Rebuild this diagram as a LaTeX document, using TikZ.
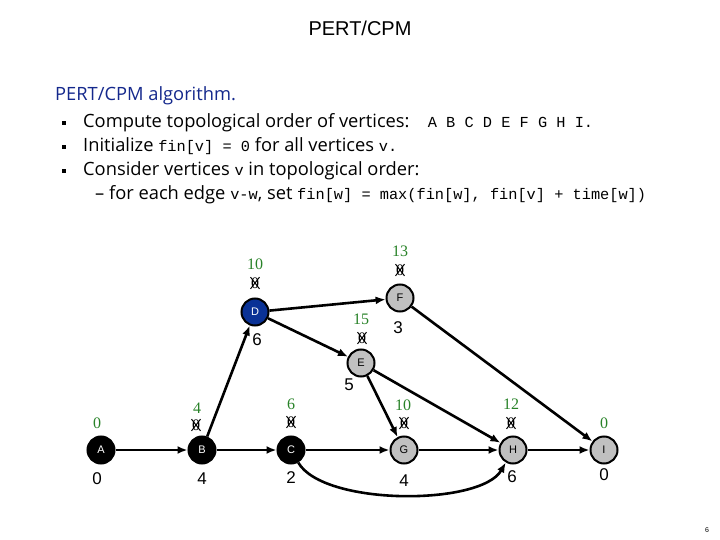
\documentclass[tikz,border=0pt]{standalone}
\usepackage{fontspec}
\setmainfont{Liberation Sans}
\newfontfamily\comicfont{Open Sans}
\newfontfamily\typefont{Liberation Mono}
\newfontfamily\numfont{Liberation Serif}
\usetikzlibrary{shapes.misc,arrows.meta}
\definecolor{slideblue}{RGB}{20,40,140}
\definecolor{fingreen}{RGB}{40,130,40}
\definecolor{dnode}{RGB}{10,50,150}
\definecolor{gnode}{RGB}{192,192,192}
\newcommand\code[1]{{\typefont\fontsize{15.3}{15}\selectfont #1}}
\tikzset{
  task/.style={circle,draw=black,line width=2pt,minimum size=27pt,inner sep=0pt,font=\fontsize{11}{11}\selectfont},
  done/.style={task,fill=black,text=white},
  cur/.style={task,fill=dnode,text=white},
  todo/.style={task,fill=gnode},
  fin/.style={text=fingreen,inner sep=0pt,font=\numfont\fontsize{16}{16}\selectfont},
  old/.style={cross out,draw,line width=1pt,inner sep=0pt,font=\numfont\fontsize{16}{16}\selectfont},
  dur/.style={inner sep=0pt,font=\fontsize{17}{17}\selectfont},
  textline/.style={anchor=base west,inner sep=0pt,font=\comicfont\fontsize{18.3}{18}\selectfont},
  bullet/.style={fill=black,inner sep=0pt,minimum size=4pt},
  edge/.style={-{Latex[length=10pt,width=8pt]},line width=2.6pt}
}
\begin{document}
\begin{tikzpicture}[x=1pt,y=-1pt]
  \useasboundingbox (0,0) rectangle (720,540);
  \node[font=\fontsize{20}{20}\selectfont] (title) at (360,28) {PERT/CPM};
  \node[textline,text=slideblue] (head) at (55,101) {PERT/CPM algorithm.};
  \node[bullet] (b1) at (64,123) {};
  \node[bullet] (b2) at (64,147) {};
  \node[bullet] (b3) at (64,171) {};
  \node[textline] (l1) at (83,128) {Compute topological order of vertices:\quad\code{A B C D E F G H I.}};
  \node[textline] (l2) at (83,152) {Initialize \code{fin[v] = 0} for all vertices \code{v.}};
  \node[textline] (l3) at (83,176) {Consider vertices \code{v} in topological order:};
  \node[textline] (l4) at (95,200) {–\ for each edge \code{v-w}, set \code{fin[w] = max(fin[w], fin[v] + time[w])}};
  \draw
    (101,450) node[done] (A){A}
    (202,450) node[done] (B){B}
    (291,450) node[done] (C){C}
    (255,312) node[cur] (D){D}
    (361,363) node[todo] (E){E}
    (400,298) node[todo] (F){F}
    (404,450) node[todo] (G){G}
    (513,450) node[todo] (H){H}
    (604,450) node[todo] (I){I};
  \draw
    (97,423) node[fin] (fA){0}
    (197,408) node[fin] (fB){4}
    (291,404) node[fin] (fC){6}
    (255,264) node[fin] (fD){10}
    (361,319) node[fin] (fE){15}
    (400,251) node[fin] (fF){13}
    (403,405) node[fin] (fG){10}
    (511,404) node[fin] (fH){12}
    (604,423) node[fin] (fI){0};
  \draw
    (196,425) node[old] (xB){0}
    (291,422) node[old] (xC){0}
    (255,283) node[old] (xD){0}
    (362,338) node[old] (xE){0}
    (400,270) node[old] (xF){0}
    (404,423) node[old] (xG){0}
    (511,423) node[old] (xH){0};
  \draw
    (97,479) node[dur] (tA){0}
    (202,479) node[dur] (tB){4}
    (291,478) node[dur] (tC){2}
    (257,340) node[dur] (tD){6}
    (349,385) node[dur] (tE){5}
    (398,328) node[dur] (tF){3}
    (404,481) node[dur] (tG){4}
    (512,477) node[dur] (tH){6}
    (604,475) node[dur] (tI){0};
  \node[font=\fontsize{7}{7}\selectfont] (page) at (707,530) {6};
  \begin{scope}[edge]
    \draw (A) to (B);
    \draw (B) to (C);
    \draw (B) to (D);
    \draw (C) to (G);
    \draw (C) to[out=-60,in=-120,looseness=0.62] (H);
    \draw (D) to (F);
    \draw (D) to (E);
    \draw (E) to (G);
    \draw (E) to (H);
    \draw (F) to (I);
    \draw (G) to (H);
    \draw (H) to (I);
  \end{scope}
\end{tikzpicture}
\end{document}
